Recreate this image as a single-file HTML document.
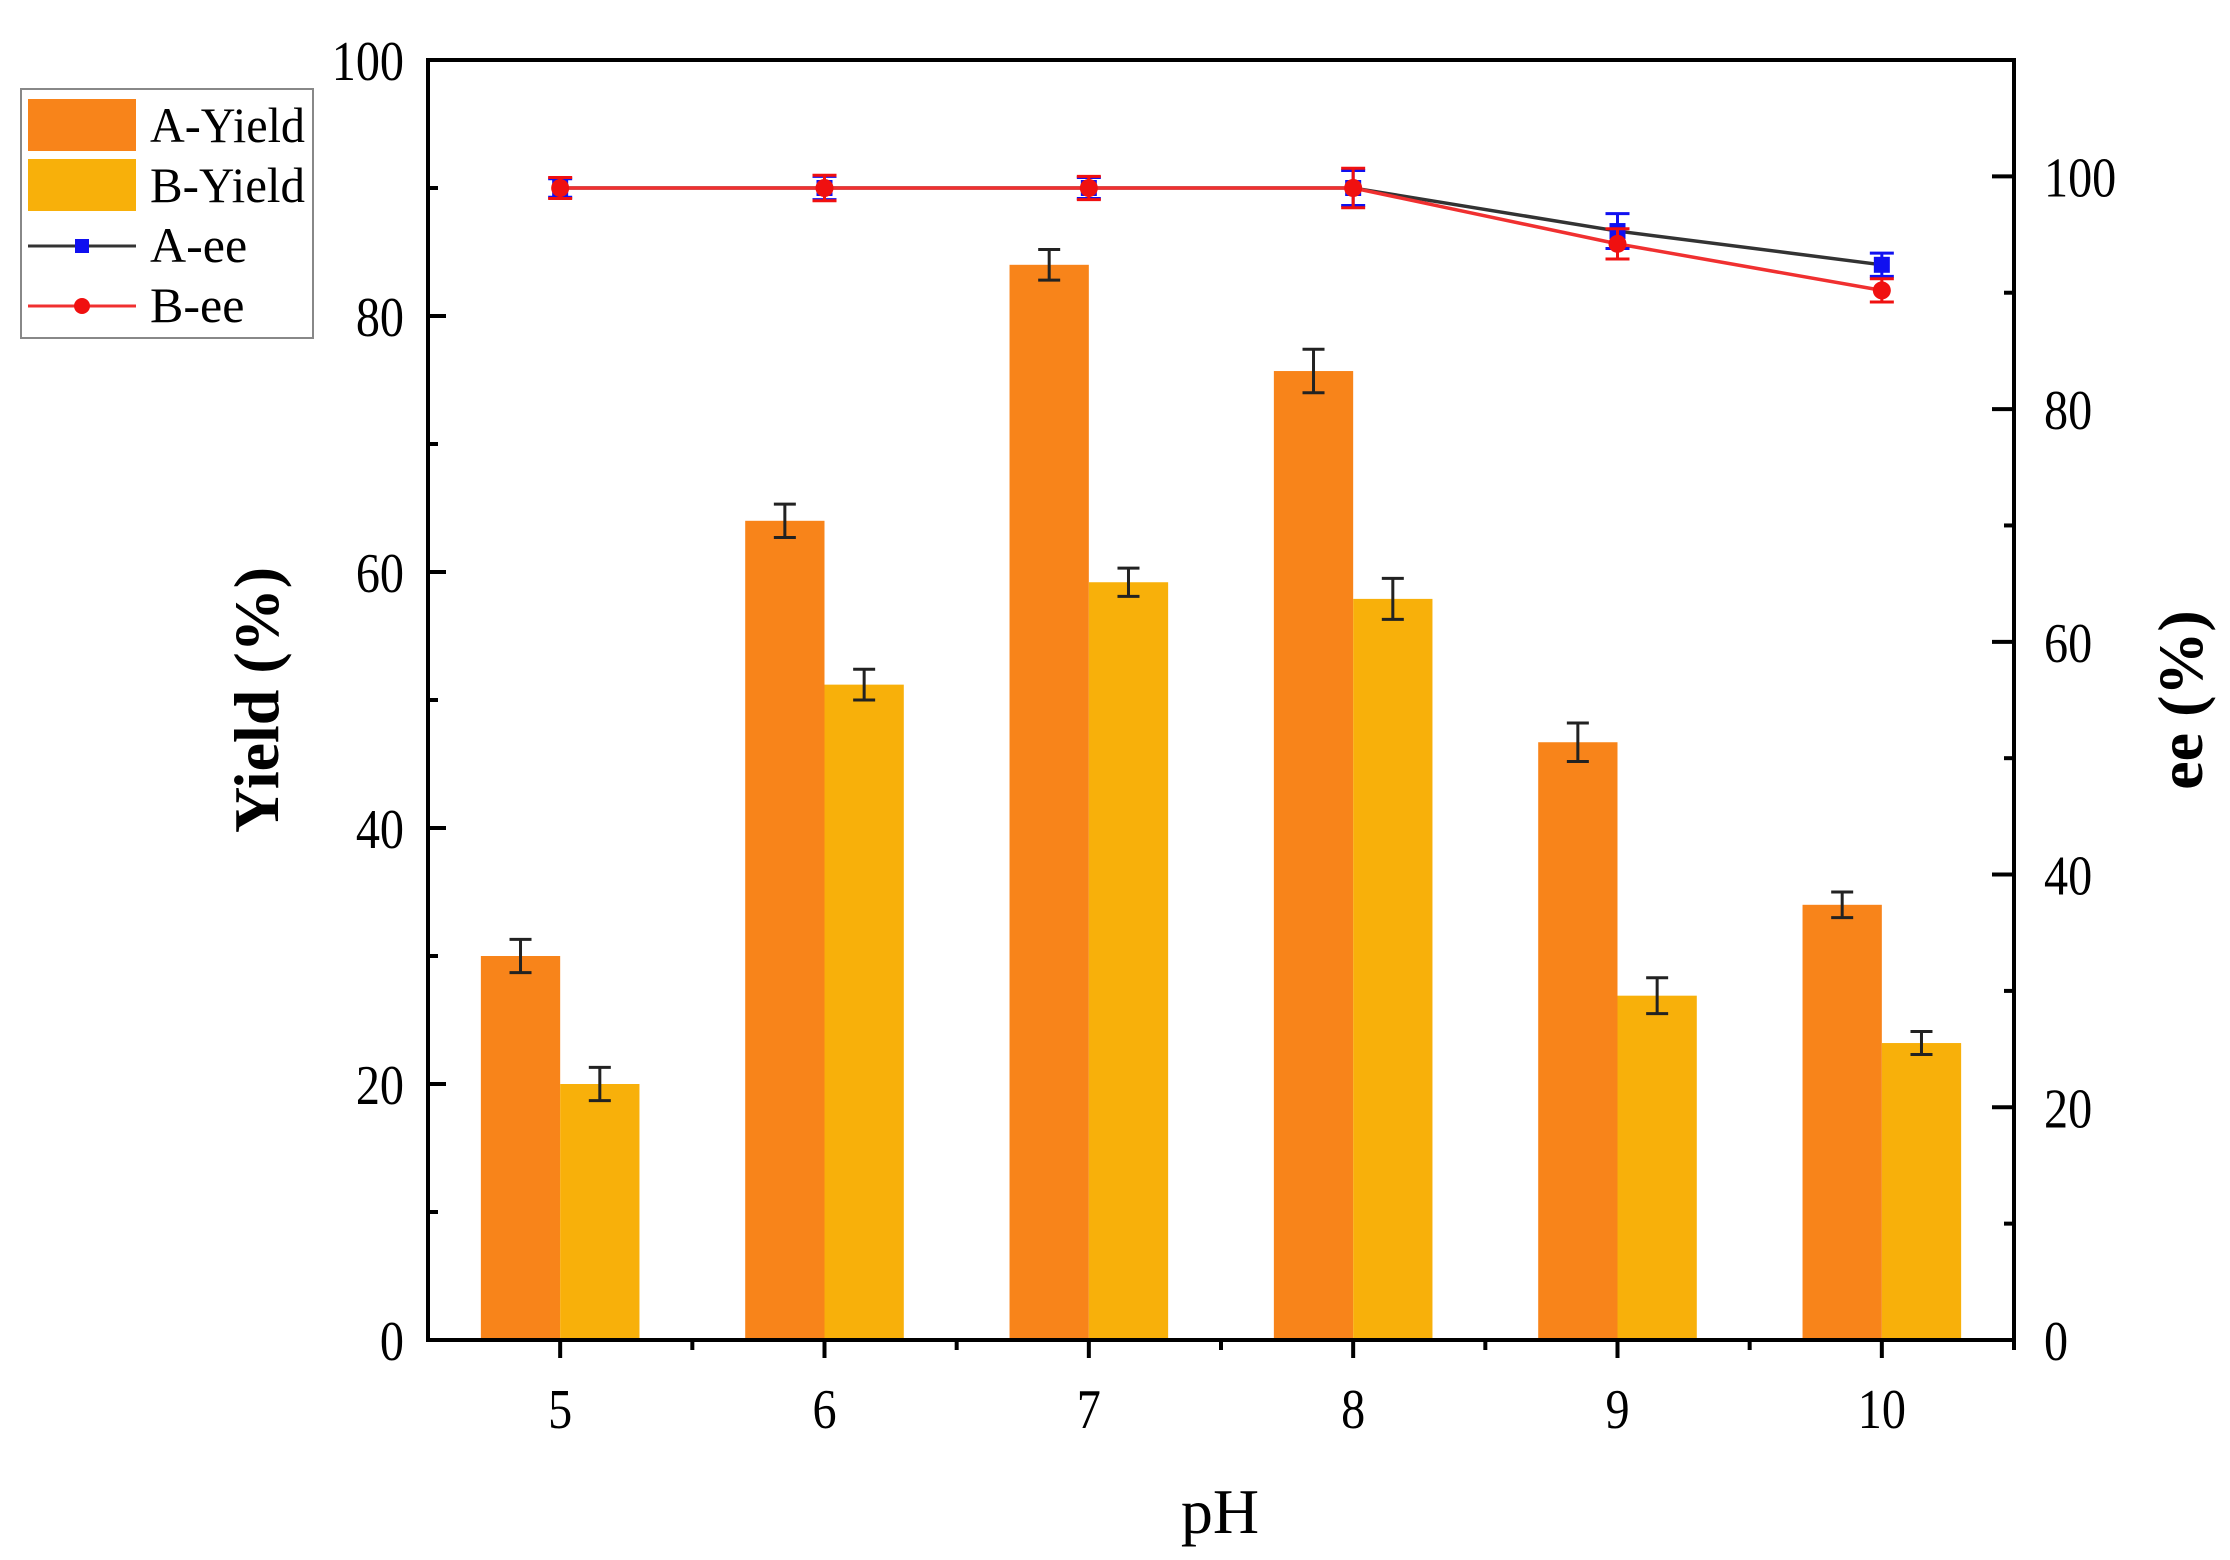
<!DOCTYPE html>
<html><head><meta charset="utf-8"><style>
html,body{margin:0;padding:0;background:#fff;}
svg{display:block;font-family:"Liberation Serif",serif;}
</style></head><body>
<svg id="chart" width="2230" height="1560" viewBox="0 0 2230 1560">
<g id="bars"></g>
<g id="lines"></g>
<g id="axes"></g>
<text x="1220" y="1533" font-size="64" text-anchor="middle">pH</text>
<text transform="translate(278,700) rotate(-90)" font-size="64" font-weight="bold" text-anchor="middle">Yield (%)</text>
<text transform="translate(2202,700) rotate(-90)" font-size="64" font-weight="bold" text-anchor="middle">ee (%)</text>
<g>
<rect x="21" y="89" width="292" height="249" fill="#fff" stroke="#888" stroke-width="2"/>
<rect x="28" y="99" width="108" height="52" fill="#F8841A"/>
<text x="150" y="142" font-size="50" textLength="155" lengthAdjust="spacingAndGlyphs">A-Yield</text>
<rect x="28" y="159" width="108" height="52" fill="#F8B00A"/>
<text x="150" y="202" font-size="50" textLength="155" lengthAdjust="spacingAndGlyphs">B-Yield</text>
<line x1="28" y1="246" x2="136" y2="246" stroke="#333" stroke-width="3"/>
<rect x="75" y="239" width="14" height="14" fill="#1010f0"/>
<text x="150" y="262" font-size="50">A-ee</text>
<line x1="28" y1="306" x2="136" y2="306" stroke="#f03030" stroke-width="3"/>
<circle cx="82" cy="306" r="8" fill="#f01010"/>
<text x="150" y="322" font-size="50">B-ee</text>
</g>
</svg>
<script>
const categories = [5, 6, 7, 8, 9, 10];
const aYield = [30, 64, 84, 75.7, 46.7, 34];
const aYieldErr = [1.3, 1.3, 1.2, 1.7, 1.5, 1.0];
const bYield = [20, 51.2, 59.2, 57.9, 26.9, 23.2];
const bYieldErr = [1.3, 1.2, 1.1, 1.6, 1.4, 0.9];
const aEE = [99, 99, 99, 99, 95.3, 92.4];
const aEEErr = [0.8, 1.0, 0.9, 1.5, 1.5, 1.0];
const bEE = [99, 99, 99, 99, 94.2, 90.2];
const bEEErr = [0.9, 1.1, 1.0, 1.7, 1.3, 1.0];
const leftTicks = [0, 20, 40, 60, 80, 100];
const rightTicks = [0, 20, 40, 60, 80, 100];

const NS = "http://www.w3.org/2000/svg";
const L = 428, R = 2014, T = 60, B = 1340;
const xs = v => L + (v - 4.5) / 6 * (R - L);
const yl = v => B - v / 100 * (B - T);
const yr = v => B - v / 110 * (B - T);
function mk(parent, tag, attrs) {
  const e = document.createElementNS(NS, tag);
  for (const k in attrs) e.setAttribute(k, attrs[k]);
  parent.appendChild(e);
  return e;
}
const bars = document.getElementById('bars');
const lines = document.getElementById('lines');
const axes = document.getElementById('axes');
const bw = 0.3;

function errBar(g, x, y0, y1, color, w) {
  const p = mk(g, 'path', {d: `M${x},${y0}V${y1}M${x-w},${y0}h${2*w}M${x-w},${y1}h${2*w}`, stroke: color, 'stroke-width': 3, fill: 'none'});
  
  
}

categories.forEach((c, i) => {
  const xa = xs(c - bw), xb = xs(c), w = xs(c + bw) - xs(c);
  const ra = mk(bars, 'rect', {x: xa, y: yl(aYield[i]), width: w, height: B - yl(aYield[i]), fill: '#F8841A'});
  
  
  const rb = mk(bars, 'rect', {x: xb, y: yl(bYield[i]), width: w, height: B - yl(bYield[i]), fill: '#F8B00A'});
  
  
  errBar(bars, xa + w / 2, yl(aYield[i] - aYieldErr[i]), yl(aYield[i] + aYieldErr[i]), '#222', 11);
  errBar(bars, xb + w / 2, yl(bYield[i] - bYieldErr[i]), yl(bYield[i] + bYieldErr[i]), '#222', 11);
});

const pa = mk(lines, 'polyline', {points: categories.map((c, i) => xs(c) + ',' + yr(aEE[i])).join(' '), fill: 'none', stroke: '#333', 'stroke-width': 3.5});


const pb = mk(lines, 'polyline', {points: categories.map((c, i) => xs(c) + ',' + yr(bEE[i])).join(' '), fill: 'none', stroke: '#f03030', 'stroke-width': 3.5});


categories.forEach((c, i) => {
  errBar(lines, xs(c), yr(aEE[i] - aEEErr[i]), yr(aEE[i] + aEEErr[i]), '#1010f0', 12);
  const m = mk(lines, 'rect', {x: xs(c) - 8, y: yr(aEE[i]) - 8, width: 16, height: 16, fill: '#1010f0'});
  
  
});
categories.forEach((c, i) => {
  errBar(lines, xs(c), yr(bEE[i] - bEEErr[i]), yr(bEE[i] + bEEErr[i]), '#f01010', 12);
  const m = mk(lines, 'circle', {cx: xs(c), cy: yr(bEE[i]), r: 9, fill: '#f01010'});
  
  
});

const fr = mk(axes, 'rect', {x: L, y: T, width: R - L, height: B - T, fill: 'none', stroke: '#000', 'stroke-width': 4});


function label(x, y, txt, anchor, name) {
  const tx = mk(axes, 'text', {x: x, y: y, 'font-size': 56, 'text-anchor': anchor, transform: `translate(${x},0) scale(0.86,1) translate(${-x},0)`});
  tx.textContent = txt;
  
  
}
categories.forEach(c => {
  const t = mk(axes, 'line', {x1: xs(c), x2: xs(c), y1: B, y2: B + 18, stroke: '#000', 'stroke-width': 4});
  
  
  const m = mk(axes, 'line', {x1: xs(c + 0.5), x2: xs(c + 0.5), y1: B, y2: B + 10, stroke: '#000', 'stroke-width': 4});
  
  
  label(xs(c), B + 88, c, 'middle', 'x-tick-label');
});
leftTicks.forEach(v => {
  const t = mk(axes, 'line', {x1: L, x2: L + 18, y1: yl(v), y2: yl(v), stroke: '#000', 'stroke-width': 4});
  
  
  if (v < 100) {
    const m = mk(axes, 'line', {x1: L, x2: L + 10, y1: yl(v + 10), y2: yl(v + 10), stroke: '#000', 'stroke-width': 4});
    
    
  }
  label(L - 24, yl(v) + 20, v, 'end', 'y-left-tick-label');
});
rightTicks.forEach(v => {
  const t = mk(axes, 'line', {x1: R - 22, x2: R, y1: yr(v), y2: yr(v), stroke: '#000', 'stroke-width': 4});
  
  
  const m = mk(axes, 'line', {x1: R - 10, x2: R, y1: yr(v + 10), y2: yr(v + 10), stroke: '#000', 'stroke-width': 4});
  
  
  label(R + 30, yr(v) + 20, v, 'start', 'y-right-tick-label');
});
</script>
</body></html>
